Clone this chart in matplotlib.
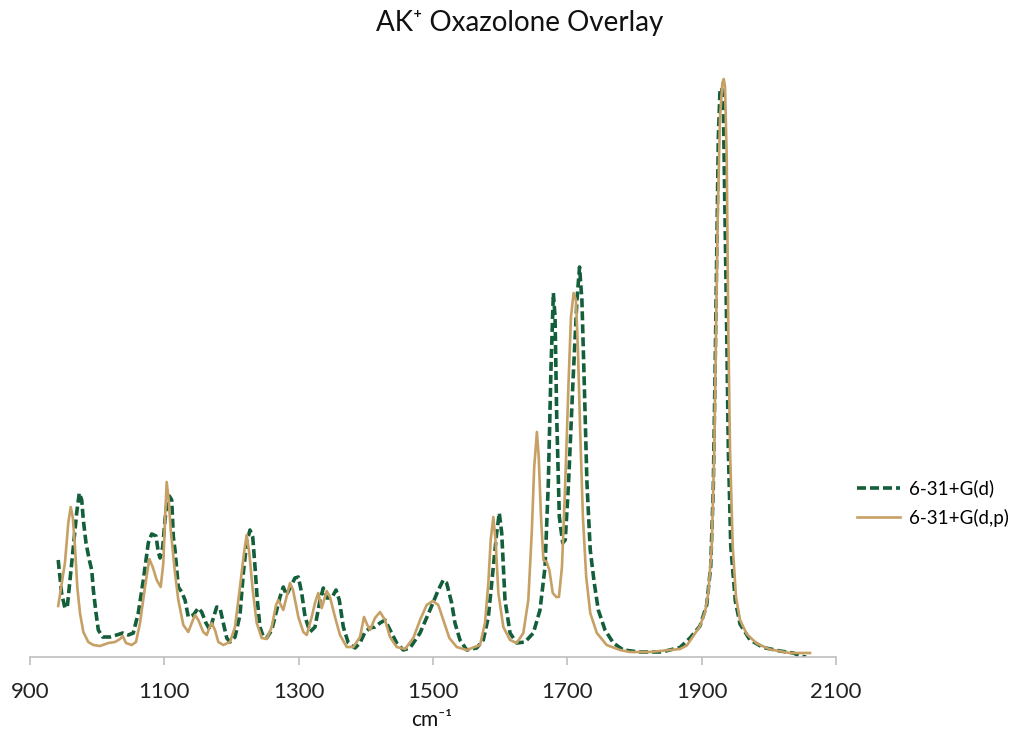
import numpy as np
import matplotlib
matplotlib.use('Agg')
import matplotlib.pyplot as plt

plt.rcParams['font.family'] = ['Lato', 'DejaVu Sans']

# wavenumber (cm-1) and intensity (arb. units) for each basis set
wn_d = [942, 947, 952, 955.5, 959.6, 964.5, 969.5, 973.4, 977, 979.4, 983.4, 988.3, 991.9, 994.3,
        998.3, 1001.7, 1008.2, 1019.1, 1029.1, 1038, 1046.4, 1053.8, 1061.2, 1068.7, 1076.1,
        1081.2, 1087.6, 1091, 1093.6, 1097.6, 1101, 1103.5, 1107.4, 1111, 1113.4, 1115.9,
        1120.8, 1125.9, 1130.8, 1135.7, 1143.1, 1150.6, 1155.6, 1162, 1168, 1172.9, 1178,
        1182.9, 1187.8, 1192.9, 1197.8, 1205.2, 1212.6, 1217.6, 1222.6, 1227.5, 1231.6, 1235,
        1238.4, 1242.4, 1247.4, 1252.4, 1259.9, 1266.3, 1272.2, 1277.1, 1281.9, 1287.1, 1294.5,
        1299.5, 1304.5, 1309.6, 1316.9, 1324.3, 1331.8, 1336.7, 1341.7, 1349.2, 1355.6, 1360.5,
        1366.5, 1373.9, 1383.9, 1391.3, 1398.8, 1406.2, 1413.6, 1421.1, 1428.5, 1436, 1445.9,
        1455.8, 1465.7, 1480.7, 1495.5, 1507.9, 1515.3, 1520.3, 1527.8, 1532.7, 1540.2, 1550.2,
        1565.1, 1574.9, 1582.4, 1589.8, 1594.8, 1598.7, 1602.3, 1607.2, 1614.7, 1624.6, 1637,
        1649.4, 1659.3, 1666.8, 1671.7, 1675.7, 1679.2, 1681.7, 1684.2, 1688.1, 1693.1, 1696.9,
        1701.8, 1708.3, 1714.3, 1718.2, 1721.7, 1725.2, 1729.2, 1734.1, 1740.1, 1746.1, 1756.1,
        1768.5, 1783.3, 1808.2, 1840, 1867.7, 1882.6, 1897.5, 1907.5, 1913.5, 1917.3, 1920,
        1922.4, 1924.8, 1927.3, 1929.8, 1932.3, 1934.8, 1937.3, 1939.7, 1943.3, 1950.1, 1957.1,
        1972, 1991.7, 2016.6, 2036.4, 2046.6, 2055.5]
int_d = [97, 64, 49, 50, 77, 110, 144, 164, 157, 137, 114, 97, 87, 67,
         44, 27, 20, 20, 22, 24, 22, 24, 44, 77, 114,
         123, 121, 105, 99, 110, 137, 152, 161, 157, 120, 107,
         70, 65, 57, 40, 42, 49, 45, 34, 27, 39, 50,
         49, 34, 19, 15, 20, 42, 84, 114, 127, 120, 90,
         57, 30, 20, 19, 27, 44, 60, 70, 62, 69, 79,
         80, 64, 40, 25, 30, 57, 69, 59, 59, 67, 57,
         30, 14, 9, 14, 25, 29, 30, 34, 37, 27, 14,
         7, 9, 24, 47, 67, 77, 74, 54, 34, 17, 7,
         9, 17, 40, 90, 124, 144, 124, 57, 24, 14, 15,
         24, 47, 90, 174, 290, 364, 340, 240, 140, 114, 117,
         174, 274, 357, 390, 357, 274, 174, 107, 74, 47, 27,
         14, 7, 5, 5, 9.5, 19, 31, 52, 91, 169, 286,
         402, 519, 567, 569, 550, 441, 325, 208, 111, 56, 33,
         17, 9.5, 6, 4, 1, 0]

wn_dp = [942, 952, 957, 960.6, 963.6, 967, 970.4, 974.4, 979.4, 986.8, 994.3, 1004.2, 1016.6,
         1026.6, 1034, 1038, 1042.9, 1051.4, 1057.8, 1063.8, 1071.2, 1077.6, 1082.7, 1088.6,
         1094.6, 1098.5, 1101, 1103.5, 1106.5, 1109.5, 1115.9, 1120.8, 1128.3, 1135.7, 1140.8,
         1145.7, 1150.6, 1158, 1163.1, 1167, 1170.5, 1175.4, 1180.4, 1187.8, 1197.8, 1205.2,
         1212.6, 1218.6, 1222.6, 1226.5, 1231.6, 1237.5, 1245, 1252.4, 1259.9, 1266.3, 1269.7,
         1277.1, 1282.6, 1287.1, 1291.6, 1299.5, 1306.9, 1312, 1319.4, 1324.3, 1329.2, 1334.3,
         1341.7, 1346.6, 1354.1, 1361.5, 1371.5, 1381.3, 1391.3, 1397.3, 1402.2, 1406.2, 1413.6,
         1421.1, 1428.5, 1436, 1445.9, 1458.3, 1470.7, 1480.7, 1490.6, 1499.6, 1507.9, 1515.3,
         1524.3, 1535.3, 1550.2, 1570, 1577.4, 1582.4, 1585.9, 1589.8, 1593.4, 1597.3, 1604.7,
         1614.7, 1624.6, 1634.5, 1641.9, 1647, 1650.7, 1654.7, 1657.4, 1660.8, 1664.4, 1669.3,
         1673.2, 1678.3, 1683.5, 1687.5, 1692, 1696.9, 1701.8, 1705.4, 1709.3, 1712.8, 1715.8,
         1719.2, 1723.2, 1728.1, 1734.1, 1743.9, 1758.6, 1778.4, 1793.3, 1823.1, 1867.7, 1877.8,
         1887.6, 1897.5, 1905, 1909.9, 1915, 1918.8, 1921.4, 1923.9, 1927.3, 1930.8, 1932.9,
         1934.8, 1937.3, 1939.7, 1942.2, 1946.2, 1951.1, 1957.1, 1967.1, 1982, 2001.7, 2031.5,
         2061.3]
int_dp = [51, 94, 134, 150, 140, 110, 70, 44, 25, 15, 12, 11, 14,
          15, 18, 21, 14, 12, 15, 34, 70, 98, 90, 77,
          70, 94, 137, 175, 157, 127, 84, 57, 32, 25, 34,
          42, 37, 25, 22, 29, 34, 27, 15, 12, 15, 30,
          70, 104, 122, 104, 67, 34, 19, 18, 30, 52, 57,
          47, 62, 74, 67, 40, 25, 22, 40, 54, 64, 49,
          66, 60, 40, 22, 10, 10, 20, 40, 32, 27, 39,
          45, 37, 20, 10, 8, 19, 37, 52, 56, 52, 37,
          19, 10, 7, 12, 34, 74, 117, 140, 114, 64, 30,
          17, 14, 24, 57, 124, 190, 225, 200, 140, 97, 95,
          87, 64, 60, 60, 90, 174, 274, 340, 364, 357, 307,
          224, 140, 80, 44, 24, 12, 7, 5, 5, 8, 11.5,
          21, 31, 45, 64, 111, 208, 325, 441, 539, 574, 578,
          570, 500, 325, 208, 111, 60, 37, 23, 13.5, 7.6, 4,
          4]

fig = plt.figure(figsize=(10.35, 7.34), dpi=100)
ax = fig.add_axes([30 / 1035, 77 / 734, 806 / 1035, 600 / 734])

ax.plot(wn_d, int_d, color='#135e3b', lw=2.6, ls=(0, (2.5, 1.1)),
        dash_capstyle='butt', label='6-31+G(d)')
ax.plot(wn_dp, int_dp, color='#c6a064', lw=1.9, label='6-31+G(d,p)')

ax.set_xlim(900, 2100)
ax.set_ylim(0, 600)
ax.set_xticks(np.arange(900, 2101, 200))
ax.set_yticks([])
for s in ['top', 'right', 'left']:
    ax.spines[s].set_visible(False)
ax.spines['bottom'].set_color('#bfbfbf')
ax.spines['bottom'].set_linewidth(1.2)
ax.tick_params(axis='x', direction='out', length=6, width=1.2, color='#bfbfbf',
               labelsize=16, pad=12, labelcolor='#222222')

fig.text(520 / 1035, 1 - 23 / 734, 'AK\u207a Oxazolone Overlay', ha='center', va='center',
         fontsize=20, color='#111111')
fig.text(432 / 1035, 1 - 720 / 734, 'cm\u207b\u00b9', ha='center', va='center',
         fontsize=15, color='#111111')

ax.legend(loc='center left', bbox_to_anchor=(857 / 1035, 1 - 503 / 734),
          bbox_transform=fig.transFigure, frameon=False, fontsize=13.5,
          handlelength=2.3, handletextpad=0.5, borderpad=0, borderaxespad=0,
          labelspacing=0.6)

fig.savefig('out.png', dpi=100)
